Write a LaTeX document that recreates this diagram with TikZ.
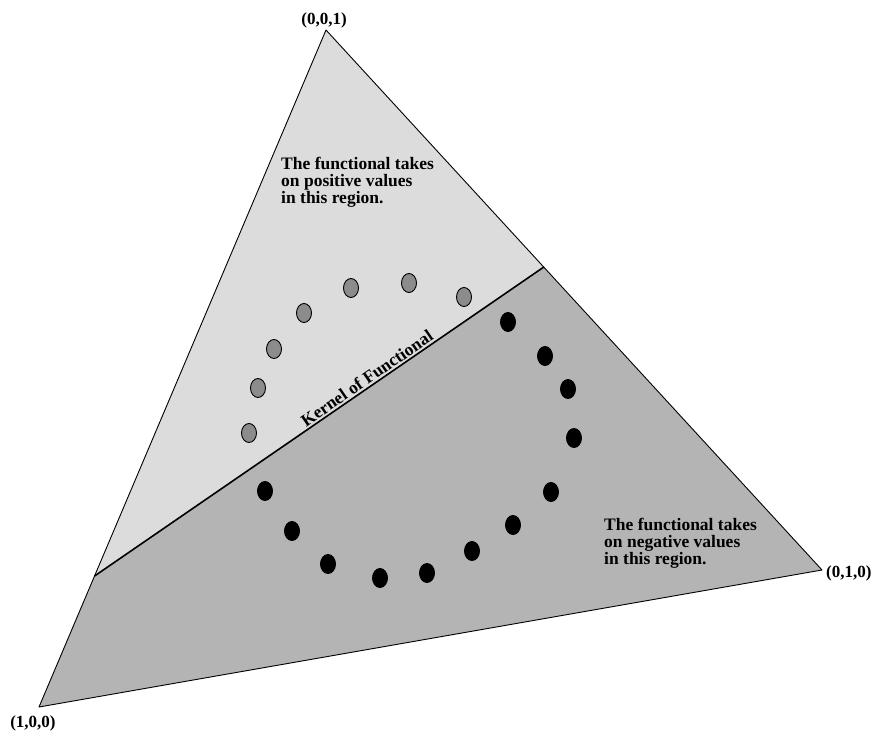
\documentclass[tikz,border=0pt]{standalone}
\usepackage{fontspec}
\setmainfont{Liberation Serif}
\usepackage{tikz}
\usetikzlibrary{shapes.geometric, positioning, calc}
\definecolor{posfill}{RGB}{220,220,220}
\definecolor{negfill}{RGB}{180,180,180}
\definecolor{dotgray}{RGB}{140,140,140}
\tikzset{
  vlabel/.style={font=\fontsize{17}{17}\selectfont\bfseries, inner sep=1pt},
  regiontext/.style={font=\fontsize{17.5}{16.8}\selectfont\bfseries,
    align=left, inner sep=0pt, anchor=north west},
  posdot/.style={ellipse, draw=black, fill=dotgray, minimum width=15pt,
    minimum height=19pt, inner sep=0pt, line width=0.9pt},
  negdot/.style={ellipse, draw=black, fill=black, minimum width=15pt,
    minimum height=19pt, inner sep=0pt, line width=0.9pt},
  rim/.style={line width=0.9pt, line join=round},
  kernel/.style={line width=1.6pt}
}

\begin{document}
\begin{tikzpicture}[x=1pt, y=-1pt]
  \useasboundingbox (0,0) rectangle (875,734);

  % Simplex corners
  \coordinate (A) at (39,707);
  \coordinate (B) at (822,570);
  \coordinate (C) at (326,30);
  \coordinate (K1) at ($(C)!0.8065!(A)$);
  \coordinate (K2) at ($(C)!0.439!(B)$);

  % Two half-regions
  \fill[negfill] (A) -- (B) -- (K2) -- (K1) -- cycle;
  \fill[posfill] (C) -- (K2) -- (K1) -- cycle;
  \draw[rim] (A) -- (B) -- (C) -- cycle;

  % Kernel line
  \draw[kernel] (K1) -- (K2)
    node[pos=0.617, sloped, above, inner sep=1.5pt, font=\fontsize{17.5}{17}\selectfont\bfseries] (klab) {Kernel of Functional};

  % Corner labels
  \node[vlabel, above=1pt of C, xshift=-2pt] (clab) {(0,0,1)};
  \node[vlabel, below=7pt of A, xshift=-6pt] (alab) {(1,0,0)};
  \node[vlabel, right=3pt of B, yshift=-3pt] (blab) {(0,1,0)};

  % Region texts
  \node[regiontext] (postext) at (281,157) {The functional takes\\on positive values\\in this region.};
  \node[regiontext] (negtext) at (604,518) {The functional takes\\on negative values\\in this region.};

  % Sample points
  \foreach \x/\y [count=\i] in {249/433, 258/388, 274/349, 304/313, 351/288, 409/283, 464/297}
    \node[posdot] (p\i) at (\x,\y) {};
  \foreach \x/\y [count=\i] in {508/322, 545/356, 568/389, 574/438, 551/492, 513/525,
      472/551, 427/573, 380/578, 328/564, 292/531, 265/491}
    \node[negdot] (n\i) at (\x,\y) {};
\end{tikzpicture}
\end{document}
